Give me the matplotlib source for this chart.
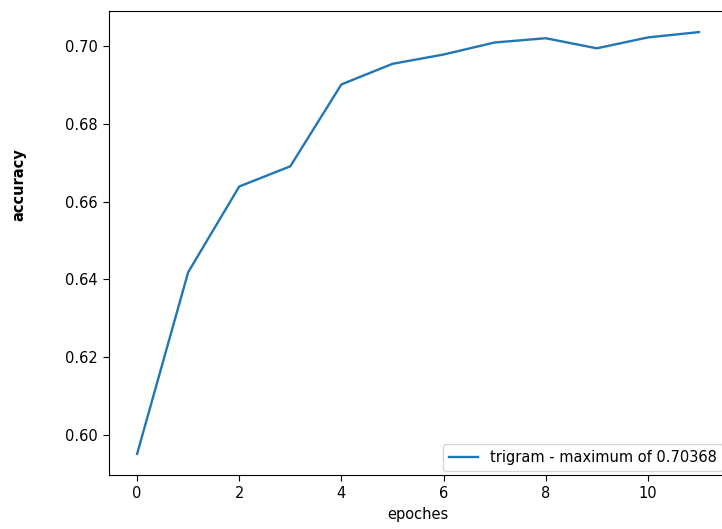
import matplotlib
matplotlib.use('Agg')
import matplotlib.pyplot as plt

# accuracy per epoch
epochs = list(range(12))
accuracy = [0.5950, 0.6418, 0.6639, 0.6691, 0.6902, 0.6955,
            0.6979, 0.7010, 0.7021, 0.6995, 0.7023, 0.70368]
label = 'trigram - maximum of 0.70368'

plt.rcParams['font.size'] = 10.5
plt.rcParams['xtick.major.size'] = 4.5
plt.rcParams['ytick.major.size'] = 4.5

fig = plt.figure(figsize=(7.22, 5.29), dpi=100)
# the reference is a crop, the right spine sits just outside the image
ax = fig.add_axes([109 / 722, 54 / 529, 618 / 722, 464 / 529])
ax.spines['right'].set_visible(False)
ax.plot(epochs, accuracy, label=label, linewidth=1.7)
ax.set_xlabel('epoches')
ax.set_ylabel('accuracy', fontweight='bold')
ax.yaxis.set_label_coords(-0.133, 0.625)
ax.legend(loc='lower right', borderaxespad=0.3)

fig.savefig('out.png', dpi=100)
